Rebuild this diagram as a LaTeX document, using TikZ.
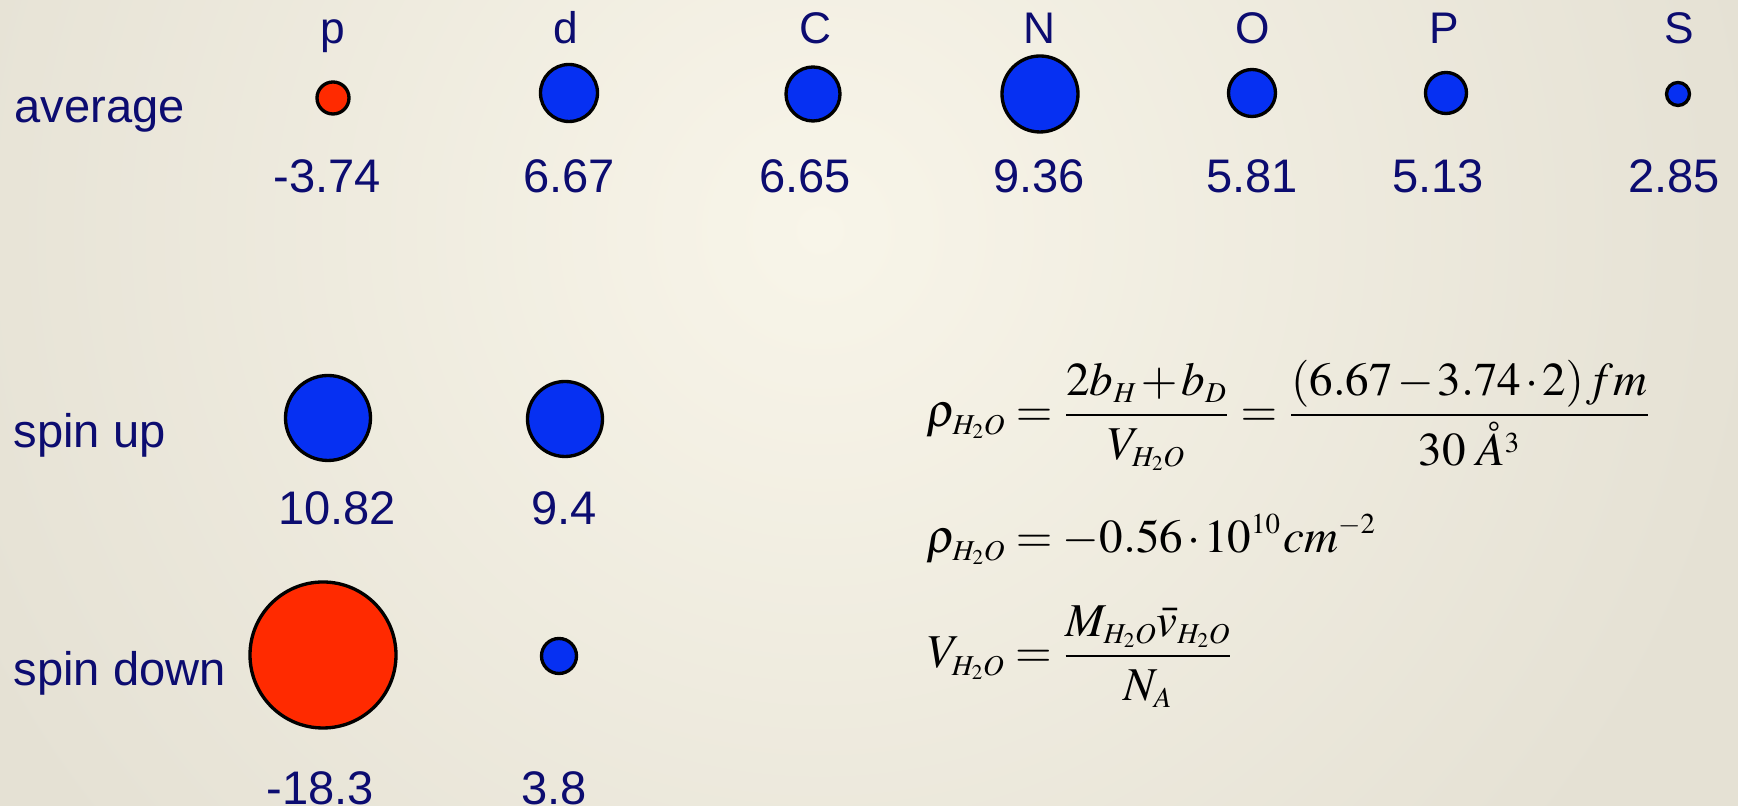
\documentclass[tikz,border=0pt]{standalone}
\usepackage{amsmath}
\usepackage{mathptmx}
\usepackage[no-math]{fontspec}
\setmainfont{Liberation Serif}
\newfontfamily\labfont{Liberation Sans}
\DeclareMathSizes{13.4}{13.4}{8.2}{6}
\definecolor{navy}{RGB}{12,12,112}
\definecolor{atomblue}{RGB}{6,48,242}
\definecolor{atomred}{RGB}{255,42,0}
\definecolor{bgouter}{RGB}{229,225,212}
\definecolor{bginner}{RGB}{248,245,233}
\newcommand{\mathtight}{\medmuskip=1.5mu\thickmuskip=4mu\nulldelimiterspace=1pt\scriptspace=0.2pt}
\tikzset{
  atom/.style={circle, draw=black, line width=0.95pt, inner sep=0pt, minimum size=#1*0.1mm},
  posatom/.style={atom=#1, fill=atomblue},
  negatom/.style={atom=#1, fill=atomred},
  lbl/.style={text=navy, inner sep=0pt, anchor=base, font=\labfont\fontsize{13.4}{16}\selectfont},
  toplbl/.style={lbl, font=\labfont\fontsize{12.6}{15}\selectfont},
  rowlbl/.style={lbl, anchor=base west},
  formula/.style={inner sep=0pt, anchor=base west, font=\fontsize{13.4}{16}\selectfont\mathtight}
}
\begin{document}
\begin{tikzpicture}[x=0.1mm,y=-0.1mm]
\useasboundingbox (0,0) rectangle (1738,806);
\fill[bgouter] (0,0) rectangle (1738,806);
\begin{scope}
\clip (0,0) rectangle (1738,806);
\shade[inner color=bginner, outer color=bgouter] (820,230) circle (95mm);
\end{scope}

% row labels
\node[rowlbl] (avg) at (14,123) {average};
\node[rowlbl] (up) at (13,448) {spin up};
\node[rowlbl] (down) at (13,686) {spin down};

% top element labels
\node[toplbl] (lp) at (333,44) {p};
\node[toplbl] (ld) at (566,44) {d};
\node[toplbl] (lC) at (815,44) {C};
\node[toplbl] (lN) at (1039,44) {N};
\node[toplbl] (lO) at (1253,44) {O};
\node[toplbl] (lP) at (1444,44) {P};
\node[toplbl] (lS) at (1679,44) {S};

% average circles
\node[negatom=32] (cp) at (333,98) {};
\node[posatom=57] (cd) at (569,93) {};
\node[posatom=54] (cC) at (813,94) {};
\node[posatom=76] (cN) at (1040,94) {};
\node[posatom=47] (cO) at (1252,93) {};
\node[posatom=41] (cP) at (1446,93) {};
\node[posatom=23] (cS) at (1678,94) {};

% average values
\node[lbl] (vp) at (327,193) {-3.74};
\node[lbl] (vd) at (569,193) {6.67};
\node[lbl] (vC) at (805,193) {6.65};
\node[lbl] (vN) at (1039,193) {9.36};
\node[lbl] (vO) at (1252,193) {5.81};
\node[lbl] (vP) at (1438,193) {5.13};
\node[lbl] (vS) at (1674,193) {2.85};

% spin up
\node[posatom=85] (up1) at (328,418) {};
\node[posatom=75] (up2) at (565,419) {};
\node[lbl] (vup1) at (337,525) {10.82};
\node[lbl] (vup2) at (564,525) {9.4};

% spin down
\node[negatom=146] (dn1) at (323,655) {};
\node[posatom=35] (dn2) at (559,656) {};
\node[lbl] (vdn1) at (320,805) {-18.3};
\node[lbl] (vdn2) at (554,805) {3.8};

% formulas
\node[formula] (f1) at (926,427)
  {$\displaystyle \rho_{H_2O} = \frac{2b_H + b_D}{V_{H_2O}} = \frac{(6.67 - 3.74\cdot 2)\mkern1mu fm}{30\;\mathring{A}^3}$};
\node[formula] (f2) at (926,553)
  {$\displaystyle \rho_{H_2O} = -0.56\cdot 10^{10}\mkern1mu cm^{-2}$};
\node[formula] (f3) at (927,668)
  {$\displaystyle V_{H_2O} = \frac{M_{H_2O}\bar{v}_{H_2O}}{N_A}$};
\end{tikzpicture}
\end{document}
